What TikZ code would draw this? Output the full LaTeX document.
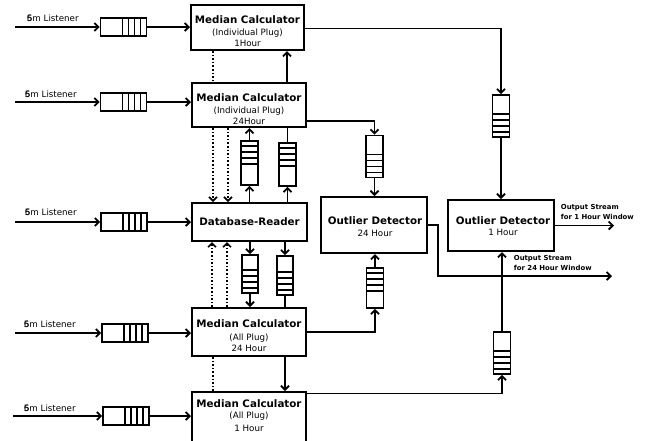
\documentclass[tikz,border=0pt]{standalone}
\usepackage{fontspec}
\setmainfont{DejaVu Sans}
\usetikzlibrary{arrows.meta,calc}
\begin{document}
\begin{tikzpicture}[x=1pt,y=-1pt, line width=1.8pt,
  >={Straight Barb[length=4pt,width=8pt]},
  box/.style={draw, line width=2pt, inner sep=0pt},
  hq/.style={draw, line width=1.7pt, minimum width=46pt, minimum height=18pt, inner sep=0pt},
  vq/.style={draw, line width=1.7pt, minimum width=17pt, minimum height=42pt, inner sep=0pt},
  bar/.style={line width=1.6pt},
  ttl/.style={font=\fontsize{10.3}{12}\selectfont\bfseries, inner sep=0pt},
  sub/.style={font=\fontsize{8.7}{10}\selectfont, inner sep=0pt},
  lst/.style={font=\fontsize{8.7}{10}\selectfont, inner sep=0pt, anchor=west},
  outl/.style={font=\fontsize{6.9}{8}\selectfont\bfseries, inner sep=0pt, anchor=west},
  dots/.style={dotted, line width=1.6pt}]
\useasboundingbox (0,0) rectangle (646,440);

% main boxes
\node[box, minimum width=113pt, minimum height=45pt] (mc1) at (247.5,27.5) {};
\node[box, minimum width=114pt, minimum height=44pt] (mc2) at (249,105) {};
\node[box, minimum width=115pt, minimum height=38pt] (db) at (249.5,222) {};
\node[box, minimum width=114pt, minimum height=48pt] (mc3) at (249,332) {};
\node[box, minimum width=114pt, minimum height=52pt] (mc4) at (249,418) {};
\node[box, minimum width=106pt, minimum height=56pt] (od24) at (374,225) {};
\node[box, minimum width=106pt, minimum height=51pt] (od1) at (501,225.5) {};

% box texts
\node[ttl] (t1a) at (247.5,20) {Median Calculator};
\node[sub] (t1b) at (247.5,33) {(Individual Plug)};
\node[sub] (t1c) at (247.5,43) {1Hour};
\node[ttl] (t2a) at (249,98) {Median Calculator};
\node[sub] (t2b) at (249,111) {(Individual Plug)};
\node[sub] (t2c) at (249,121) {24Hour};
\node[ttl] (t3a) at (249.5,222) {Database-Reader};
\node[ttl] (t4a) at (249,324) {Median Calculator};
\node[sub] (t4b) at (249,338) {(All Plug)};
\node[sub] (t4c) at (249,348) {24 Hour};
\node[ttl] (t5a) at (249,404) {Median Calculator};
\node[sub] (t5b) at (249,416) {(All Plug)};
\node[sub] (t5c) at (249,428) {1 Hour};
\node[ttl] (t6a) at (375,221) {Outlier Detector};
\node[sub] (t6b) at (375,233) {24 Hour};
\node[ttl] (t7a) at (503,221) {Outlier Detector};
\node[sub] (t7b) at (503,232) {1 Hour};

% horizontal queues (listeners)
\node[hq] (q1) at (123.5,27) {};
\node[hq] (q2) at (123.5,102) {};
\node[hq] (q3) at (124,222) {};
\node[hq] (q4) at (125,333) {};
\node[hq] (q5) at (126,416) {};
\foreach \q in {q1,q2,q3,q4,q5}{
  \foreach \d in {7,13,19,25}{
    \draw[bar] ([xshift=-\d pt]\q.north east) -- ([xshift=-\d pt]\q.south east);
  }
}

% vertical queues
\node[vq] (qT) at (501,116) {};
\node[vq] (qM) at (374.5,156.5) {};
\node[vq, minimum height=40pt] (qN) at (375,288) {};
\node[vq] (qR) at (502,353) {};
\node[vq, minimum height=44pt] (vqA) at (249.5,163) {};
\node[vq, minimum height=43pt] (vqB) at (287.5,164.5) {};
\node[vq, minimum height=38pt, minimum width=16pt] (vqC) at (250,274) {};
\node[vq, minimum height=39pt, minimum width=16pt] (vqD) at (285,275.5) {};
\foreach \q in {vqA,vqB,qN}{
  \foreach \d in {6,12,18,24}{
    \draw[bar] ([yshift=-\d pt]\q.north west) -- ([yshift=-\d pt]\q.north east);
  }
}
\foreach \q in {qT,qM,vqC,vqD,qR}{
  \foreach \d in {6,12,18,24}{
    \draw[bar] ([yshift=\d pt]\q.south west) -- ([yshift=\d pt]\q.south east);
  }
}

% listener inputs
\coordinate (s1) at (15,27);
\coordinate (s2) at (15,102);
\coordinate (s3) at (15,222);
\coordinate (s4) at (15,333);
\coordinate (s5) at (13,416);
\node[lst] (l1) at (26,18) {\makebox[0pt][l]{5}6m Listener};
\node[lst] (l2) at (24,94) {\makebox[0pt][l]{5}6m Listener};
\node[lst] (l3) at (24,212) {\makebox[0pt][l]{5}6m Listener};
\node[lst] (l4) at (23,324) {\makebox[0pt][l]{5}6m Listener};
\node[lst] (l5) at (23,408) {\makebox[0pt][l]{5}6m Listener};
\draw[->] (s1) -- (q1.west);
\draw[->] (s2) -- (q2.west);
\draw[->] (s3) -- (q3.west);
\draw[->] (s4) -- (q4.west);
\draw[->] (s5) -- (q5.west);
\draw[->] (q1.east) -- (q1.east -| mc1.west);
\draw[->] (q2.east) -- (q2.east -| mc2.west);
\draw[->] (q3.east) -- (q3.east -| db.west);
\draw[->] (q4.east) -- (q4.east -| mc3.west);
\draw[->] (q5.east) -- (q5.east -| mc4.west);

% vertical links between median calculators
\draw[->] ([xshift=38pt]mc2.north) -- ([xshift=38pt]mc2.north |- mc1.south);
\draw[->] ([xshift=36pt]mc3.south) -- ([xshift=36pt]mc3.south |- mc4.north);
\draw[dots] ([xshift=-34.5pt]mc1.south) -- ([xshift=-34.5pt]mc1.south |- mc2.north);
\draw[dots] ([xshift=-36pt]mc3.south) -- ([xshift=-36pt]mc3.south |- mc4.north);

% database reader links
\draw[dots,->] ([xshift=-36pt]mc2.south) -- ([xshift=-36pt]mc2.south |- db.north);
\draw[dots,->] ([xshift=-21pt]mc2.south) -- ([xshift=-21pt]mc2.south |- db.north);
\draw[dots,->] ([xshift=-37pt]mc3.north) -- ([xshift=-37pt]mc3.north |- db.south);
\draw[dots,->] ([xshift=-22pt]mc3.north) -- ([xshift=-22pt]mc3.north |- db.south);
\draw[->] (vqA.south |- db.north) -- (vqA.south);
\draw[->] (vqA.north) -- (vqA.north |- mc2.south);
\draw[->] (vqB.south |- db.north) -- (vqB.south);
\draw (vqB.north) -- (vqB.north |- mc2.south);
\draw[->] (vqC.north |- db.south) -- (vqC.north);
\draw[->] (vqC.south) -- (vqC.south |- mc3.north);
\draw[->] (vqD.north |- db.south) -- (vqD.north);
\draw (vqD.south) -- (vqD.south |- mc3.north);

% to outlier detectors
\draw[->] ([yshift=-1pt]mc1.east) -| (qT.north);
\draw[->] (qT.south) -- (qT.south |- od1.north);
\draw[->] ([yshift=-16pt]mc2.east) -| (qM.north);
\draw[->] (qM.south) -- (qM.south |- od24.north);
\draw[->] (mc3.east) -| (qN.south);
\draw[->] (qN.north) -- (qN.north |- od24.south);
\draw[->] ([yshift=-2.5pt]mc4.north east) -| (qR.south);
\draw[->] (qR.north) -- (qR.north |- od1.south);

% outputs
\coordinate (o1) at (614,226);
\coordinate (b24) at (438,276);
\coordinate (o24) at (612,276);
\draw[->] (od1.east) -- (od1.east -| o1);
\draw[->] (od24.east) -| (b24) -- (o24);
\node[outl] (ol1a) at (560,208) {Output Stream};
\node[outl] (ol1b) at (560,216.5) {for 1 Hour Window};
\node[outl] (ol2a) at (513,259) {Output Stream};
\node[outl] (ol2b) at (513,267.5) {for 24 Hour Window};
\end{tikzpicture}
\end{document}
